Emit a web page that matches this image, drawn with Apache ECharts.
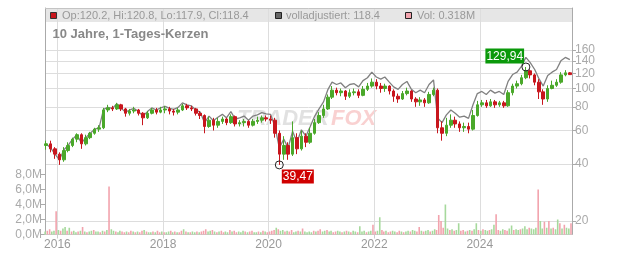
<!DOCTYPE html>
<html><head><meta charset="utf-8">
<script src="https://cdn.jsdelivr.net/npm/echarts@6/dist/echarts.min.js"></script>
<style>html,body{margin:0;padding:0;background:#fff}#c{width:632px;height:253px}</style>
</head><body><div id="c"></div><script>
// ---- data (monthly candles, 2015-10 .. 2025-09) ----
const startYear = 2015, startMonth = 9; // October 2015 (0-based month)
const open = [
 50,51,48,45,42,47,50,54,57,51,55,58,
 61,62,77,79,78,82,78,74,76,77,74,70,
 74,77,75,77,78,76,75,77,81,79,78,74,
 72,63,68,64,67,69,66,71,65,66,67,64,
 67,68,70,69,68,58,45,50,45,55,48,56,
 52,58,66,72,78,90,98,95,97,91,95,96,
 92,99,103,108,103,100,103,97,91,88,94,97,
 88,85,87,84,93,98,62,58,64,68,65,62,
 63,61,72,82,84,81,85,82,84,81,95,103,
 106,114,124,118,108,96,88,100,104,108,118,121
];
const close = [
 51,48,45,42,47,50,54,57,51,55,58,61,
 62,77,79,78,82,78,74,76,77,74,70,74,
 77,75,77,78,76,75,77,81,79,78,74,72,
 63,68,64,67,69,66,71,65,66,67,64,67,
 68,70,69,68,58,45,50,45,55,48,56,52,
 58,66,72,78,90,98,95,97,91,95,96,92,
 99,103,108,103,100,103,97,91,88,94,97,88,
 85,87,84,93,98,62,58,64,68,65,62,63,
 61,72,82,84,81,85,82,84,81,95,103,106,
 114,124,118,108,96,88,100,104,108,118,121,118.4
];
const low = [
 47.5,46,42.5,39.5,41,46,49,52,48,50,54,57,
 59,61,75,76,77,76,71,72,74,72,64,69,
 73,73,74,74,73,72,73,76,77,76,72,69,
 58,62,60,62,65,64,65,63,63,63,62,63,
 65,66,67,65,55,39.47,42,42,44,45,47,49,
 51,57,65,70,77,88,92,91,87,89,92,89,
 91,97,101,99,95,96,93,85,84,87,92,85,
 80,81,80,83,91,58,53,56,62,62,59,59,
 58,60,71,80,79,80,79,80,79,80,92,100,
 104,112,113,104,88,82,85,99,102,106,116,117.9
];
const high = [
 53,53,49,46,49,52,55,58,58,57,59,62,
 64,79,82,81,84,83,79,78,80,78,75,76,
 79,79,80,81,80,78,79,83,83,81,79,76,
 73,71,70,70,71,70,73,72,68,69,68,69,
 71,72,72,72,70,60,56,52,67,58,60,58,
 62,69,75,82,93,103,101,100,98,99,100,99,
 103,107,113,112,107,106,104,99,94,97,101,98,
 90,90,89,96,101,100,67,70,73,71,67,66,
 66,77,86,87,87,88,87,86,86,98,106,110,
 118,129.94,126,120,112,99,104,110,112,122,125,122
];
const adjusted = [
 51,48.5,45,42,47.5,50,54,57,51.5,55,58,61,
 62,77.5,79.5,78.5,83,79,75,77,78.5,75.5,71.5,75.5,
 79,77,79,80.5,78.5,77.5,79.5,84,82,81,77,75,
 66,71.5,67.5,70.5,73,70,75.5,69,70,71.5,68,71.5,
 72.5,74.5,73.5,73,62.5,48.5,54,48.5,59.5,52,60.5,56,
 63,71.5,78,85,99,108,105,107,101,105,106,102,
 110,114,122,115,112,115,108,102,99,105,109,99,
 95,98,95,105,111,70,66,72.5,77,74,70.5,71.5,
 69.5,82,94,96.5,93,98,94.5,96.5,93,109,118.5,122,
 131,146,137,126,112,103,117,122,126,140,146,142
];
// volume in millions, two values per month (first / second half)
const volume = [
 0.4,0.5,0.7,0.4,0.5,3.1,0.6,0.5,0.8,1.0,0.5,0.9,0.4,0.5,0.3,0.4,0.5,1.0,0.4,0.3,0.4,0.5,0.6,0.4,
 0.4,0.3,0.5,0.4,0.6,6.4,0.7,0.5,0.4,0.3,0.5,0.4,0.3,0.4,0.3,0.5,0.4,0.3,0.4,0.3,0.5,0.6,0.4,0.3,
 0.3,0.4,0.3,0.5,0.3,0.4,0.3,0.3,0.4,0.5,0.3,0.4,0.3,0.3,0.5,0.7,0.4,0.3,0.3,0.4,0.3,0.4,0.3,0.4,
 0.5,0.7,0.4,0.5,0.6,0.4,0.3,0.4,0.5,0.3,0.4,0.3,0.6,0.4,0.5,0.3,0.4,0.3,0.5,0.4,0.3,0.4,0.5,0.3,
 0.3,0.4,0.3,0.5,0.4,0.3,0.4,0.5,0.6,0.9,0.7,0.5,0.6,0.4,0.5,0.4,0.6,0.3,0.4,0.5,0.4,0.8,0.4,0.3,
 0.4,0.3,0.5,0.4,0.5,0.7,0.4,0.5,0.6,0.4,0.5,0.3,0.4,0.5,0.4,0.3,0.4,0.5,0.4,0.3,0.5,0.4,0.3,1.1,
 0.4,0.5,0.3,0.4,0.5,1.3,0.4,0.5,2.3,0.6,0.4,0.5,0.3,0.4,0.5,0.4,0.3,0.5,0.4,0.3,0.4,0.5,0.4,0.6,
 0.5,0.4,1.0,0.5,0.4,0.5,0.6,0.4,0.5,0.7,0.6,2.6,1.8,0.9,4.0,0.8,0.6,0.7,0.5,0.6,1.5,0.5,0.6,0.4,
 0.5,0.6,0.5,0.7,1.5,0.6,0.5,0.7,0.6,0.5,0.6,0.7,1.3,2.7,0.6,0.5,0.7,0.6,0.5,0.8,1.2,0.6,0.7,0.6,
 0.7,0.8,1.1,0.7,0.9,0.8,0.7,0.9,6.0,1.8,0.8,1.7,0.9,1.8,0.8,0.9,0.7,2.0,1.5,0.8,1.3,0.9,0.8,1.5
];
// u = up day (green), d = down day (red)
const volumeDir = (
 "udduud uduudu duudud uduudu" +
 "ududud uuduud duddud uddudu" +
 "ududdu duudud uddudu duudud" +
 "dduudu dudduu dudduu ududdu" +
 "ududud dddudu ududdu ududuu" +
 "uududd uuduud duudud uduudu" +
 "uuduud duuddu dduudd uduudu" +
 "uddudu uduudd dduudu duuddu" +
 "duduud uduudu udduud duuduu" +
 "duuudu uuduud ududuu duduud").replace(/\s/g, '');
const yearTicks = [2016, 2018, 2020, 2022, 2024];
const priceTicks = [20, 40, 60, 80, 100, 120, 140, 160];
const volumeTicks = [0, 2, 4, 6, 8];
const legendTexts = ['Op:120.2, Hi:120.8, Lo:117.9, Cl:118.4', 'volladjustiert: 118.4', 'Vol: 0.318M'];
const titleText = '10 Jahre, 1-Tages-Kerzen';

// ---- build ----
const FONT = 'Arial, "Liberation Sans", sans-serif';
const LN = Math.log;
function monthTime(i, day) {
  const m = startMonth + i;
  return Date.UTC(startYear + Math.floor(m / 12), m % 12, day);
}
const candleData = open.map((o, i) => [monthTime(i, 15), LN(o), LN(close[i]), LN(low[i]), LN(high[i])]);
const adjData = adjusted.map((v, i) => [monthTime(i, 15), LN(v)]);
const volData = volume.map((v, k) => ({
  value: [monthTime(Math.floor(k / 2), k % 2 ? 23 : 8), v],
  itemStyle: { color: volumeDir[k] === 'u' ? '#a6d99c' : '#f2a3ad' }
}));
let hiIdx = 0, loIdx = 0;
high.forEach((v, i) => { if (v > high[hiIdx]) hiIdx = i; });
low.forEach((v, i) => { if (v < low[loIdx]) loIdx = i; });
const fmtDe = v => v.toFixed(2).replace('.', ',');

const minX = Date.UTC(2015, 9, 7), maxX = Date.UTC(2025, 8, 30);
const yearVals = yearTicks.map(y => Date.UTC(y, 0, 1));
const priceVals = priceTicks.map(LN);
// labels split over two overlaid right axes so the tightly spaced 140/160 are both kept
const priceValsA = priceVals.filter((v, i) => i % 2 === 0);
const priceValsB = priceVals.filter((v, i) => i % 2 === 1);
const PRICE_MIN = 2.829, PRICE_MAX = 5.5845;
const priceFmt = v => String(Math.round(Math.exp(v)));
const priceLabel = vals => ({ customValues: vals, formatter: priceFmt, color: '#aaa', fontSize: 12, margin: 3, hideOverlap: false, showMinLabel: true, showMaxLabel: true });

const chart = echarts.init(document.getElementById('c'), null, { renderer: 'canvas' });
chart.setOption({
  animation: false,
  textStyle: { fontFamily: FONT },
  grid: { left: 45, right: 60, top: 8, bottom: 18.5, show: false },
  xAxis: {
    type: 'value', min: minX, max: maxX, z: 1,
    axisLine: { show: true, lineStyle: { color: '#cccccc' } },
    axisTick: { show: true, length: 4, customValues: yearVals, lineStyle: { color: '#cccccc' } },
    axisLabel: { customValues: yearVals, formatter: v => String(new Date(v).getUTCFullYear()), color: '#999', fontSize: 12, margin: 4, hideOverlap: false },
    splitLine: { show: true, customValues: yearVals, lineStyle: { color: '#dddddd' } }
  },
  yAxis: [
    {
      type: 'value', position: 'left', min: 0, max: 30.2,
      axisLine: { show: true, lineStyle: { color: '#aaaaaa' } },
      axisTick: { show: true, length: 4, customValues: volumeTicks, lineStyle: { color: '#aaaaaa' } },
      axisLabel: { customValues: volumeTicks, formatter: v => v.toFixed(1).replace('.', ',') + 'M', color: '#aaa', fontSize: 12, margin: 3, hideOverlap: false },
      splitLine: { show: false }
    },
    {
      type: 'value', position: 'right', min: PRICE_MIN, max: PRICE_MAX,
      axisLine: { show: true, lineStyle: { color: '#aaaaaa' } },
      axisTick: { show: true, length: 4, customValues: priceVals, lineStyle: { color: '#aaaaaa' } },
      axisLabel: priceLabel(priceValsA),
      splitLine: { show: true, customValues: priceVals, lineStyle: { color: '#dddddd' } }
    },
    {
      type: 'value', position: 'right', offset: 0, min: PRICE_MIN, max: PRICE_MAX,
      axisLine: { show: false }, axisTick: { show: false },
      axisLabel: priceLabel(priceValsB),
      splitLine: { show: false }
    }
  ],
  graphic: [
    { type: 'rect', z: -1, silent: true, shape: { x: 45, y: 8, width: 527, height: 14 }, style: { fill: '#e6e6e6' } },
    { type: 'line', z: 5, silent: true, shape: { x1: 45, y1: 8.5, x2: 572, y2: 8.5 }, style: { stroke: '#c4c4c4', lineWidth: 1 } },
    { type: 'rect', z: 5, shape: { x: 50.5, y: 12.5, width: 6, height: 6 }, style: { fill: '#c8161d', stroke: '#333', lineWidth: 1 } },
    { type: 'text', z: 5, x: 62, y: 15.5, style: { text: legendTexts[0], fill: '#999', font: '11px ' + FONT, textVerticalAlign: 'middle' } },
    { type: 'rect', z: 5, shape: { x: 275.5, y: 12.5, width: 6, height: 6 }, style: { fill: '#666', stroke: '#222', lineWidth: 1 } },
    { type: 'text', z: 5, x: 286, y: 15.5, style: { text: legendTexts[1], fill: '#999', font: '11px ' + FONT, textVerticalAlign: 'middle' } },
    { type: 'rect', z: 5, shape: { x: 405.5, y: 12.5, width: 6, height: 6 }, style: { fill: '#f2a3ad', stroke: '#222', lineWidth: 1 } },
    { type: 'text', z: 5, x: 417, y: 15.5, style: { text: legendTexts[2], fill: '#999', font: '11px ' + FONT, textVerticalAlign: 'middle' } },
    { type: 'text', z: 5, x: 52.5, y: 34, style: { text: titleText, fill: '#888', font: 'bold 13px ' + FONT, textVerticalAlign: 'middle' } },
    { type: 'text', z: -1, silent: true, x: 237, y: 119, style: { text: 'TRADER', fill: 'rgba(195,195,195,0.5)', font: 'bold italic 22px ' + FONT, textVerticalAlign: 'middle' } },
    { type: 'text', z: -1, silent: true, x: 331, y: 119, style: { text: 'FOX', fill: 'rgba(240,140,140,0.4)', font: 'bold italic 22px ' + FONT, textVerticalAlign: 'middle' } }
  ],
  series: [
    { type: 'bar', yAxisIndex: 0, barWidth: 1.6, data: volData, silent: true, z: 2 },
    { type: 'line', yAxisIndex: 1, data: adjData, showSymbol: false, silent: true, z: 3,
      lineStyle: { color: '#808080', width: 1.3 } },
    { type: 'candlestick', yAxisIndex: 1, data: candleData, encode: { x: 0, y: [1, 2, 3, 4] }, barWidth: 3, z: 4, silent: true,
      itemStyle: { color: '#4aa82a', color0: '#c8161d', borderColor: '#4aa82a', borderColor0: '#c8161d', borderWidth: 1 },
      markPoint: {
        silent: true, symbol: 'circle', symbolSize: 8,
        itemStyle: { color: 'rgba(0,0,0,0)', borderColor: '#222', borderWidth: 1 },
        data: [
          { coord: [monthTime(hiIdx, 15), LN(high[hiIdx])],
            label: { show: true, formatter: fmtDe(high[hiIdx]), position: [-36, -14], backgroundColor: '#0b990b', color: '#fff', padding: [1, 1, 0, 1], fontSize: 12, lineHeight: 14 } },
          { coord: [monthTime(loIdx, 15), LN(low[loIdx])],
            label: { show: true, formatter: fmtDe(low[loIdx]), position: [7, 9], backgroundColor: '#d00000', color: '#fff', padding: [1, 1, 0, 1], fontSize: 12, lineHeight: 13 } }
        ]
      }
    }
  ]
});
</script></body></html>
